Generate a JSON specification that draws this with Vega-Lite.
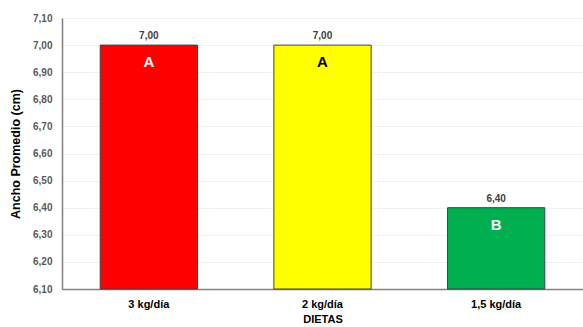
{
  "$schema": "https://vega.github.io/schema/vega-lite/v6.json",
  "autosize": {"type": "none"},
  "width": 521,
  "height": 271,
  "padding": {"left": 62, "top": 18, "right": 0, "bottom": 38},
  "background": "white",
  "config": {
    "view": {"stroke": null},
    "font": "Liberation Sans",
    "locale": {"number": {"decimal": ",", "thousands": ".", "grouping": [3], "currency": ["", ""]}}
  },
  "data": {
    "values": [
      {"dieta": "3 kg/día", "ancho": 7.0, "grupo": "A"},
      {"dieta": "2 kg/día", "ancho": 7.0, "grupo": "A"},
      {"dieta": "1,5 kg/día", "ancho": 6.4, "grupo": "B"}
    ]
  },
  "encoding": {
    "x": {
      "field": "dieta",
      "type": "nominal",
      "sort": null,
      "scale": {"paddingInner": 0.44, "paddingOuter": 0.22},
      "axis": {
        "title": "DIETAS",
        "titleFontSize": 11,
        "titleFontWeight": "bold",
        "titleColor": "#000000",
        "titlePadding": 4,
        "labelAngle": 0,
        "labelFontSize": 11,
        "labelFontWeight": "bold",
        "labelColor": "#000000",
        "labelPadding": 9,
        "ticks": false,
        "domainColor": "#808080",
        "domainWidth": 1.5
      }
    },
    "y": {
      "field": "ancho",
      "type": "quantitative",
      "scale": {"domain": [6.1, 7.1], "zero": false, "nice": false},
      "axis": {
        "title": "Ancho Promedio (cm)",
        "titleFontSize": 12.5,
        "titleFontWeight": "bold",
        "titleColor": "#000000",
        "titlePadding": 10,
        "values": [6.1, 6.2, 6.3, 6.4, 6.5, 6.6, 6.7, 6.8, 6.9, 7.0, 7.1],
        "format": ".2f",
        "labelFontSize": 10,
        "labelFontWeight": "bold",
        "labelColor": "#595959",
        "labelPadding": 10,
        "ticks": false,
        "grid": true,
        "gridColor": "#f0f0f0",
        "gridWidth": 1,
        "domainColor": "#808080",
        "domainWidth": 1.5
      }
    }
  },
  "layer": [
    {
      "mark": {"type": "bar", "stroke": "#404040", "strokeWidth": 1},
      "encoding": {
        "y2": {"datum": 6.1},
        "color": {
          "field": "dieta",
          "type": "nominal",
          "sort": null,
          "scale": {"domain": ["3 kg/día", "2 kg/día", "1,5 kg/día"], "range": ["#ff0000", "#ffff00", "#00b050"]},
          "legend": null
        }
      }
    },
    {
      "mark": {"type": "text", "baseline": "bottom", "dy": -4, "fontSize": 10, "fontWeight": "bold", "color": "#404040"},
      "encoding": {"text": {"field": "ancho", "type": "quantitative", "format": ".2f"}}
    },
    {
      "mark": {"type": "text", "baseline": "middle", "dy": 17, "fontSize": 15, "fontWeight": "bold"},
      "encoding": {
        "text": {"field": "grupo"},
        "color": {
          "condition": {"test": "datum.dieta === '2 kg/día'", "value": "#000000"},
          "value": "#ffffff"
        }
      }
    }
  ]
}
